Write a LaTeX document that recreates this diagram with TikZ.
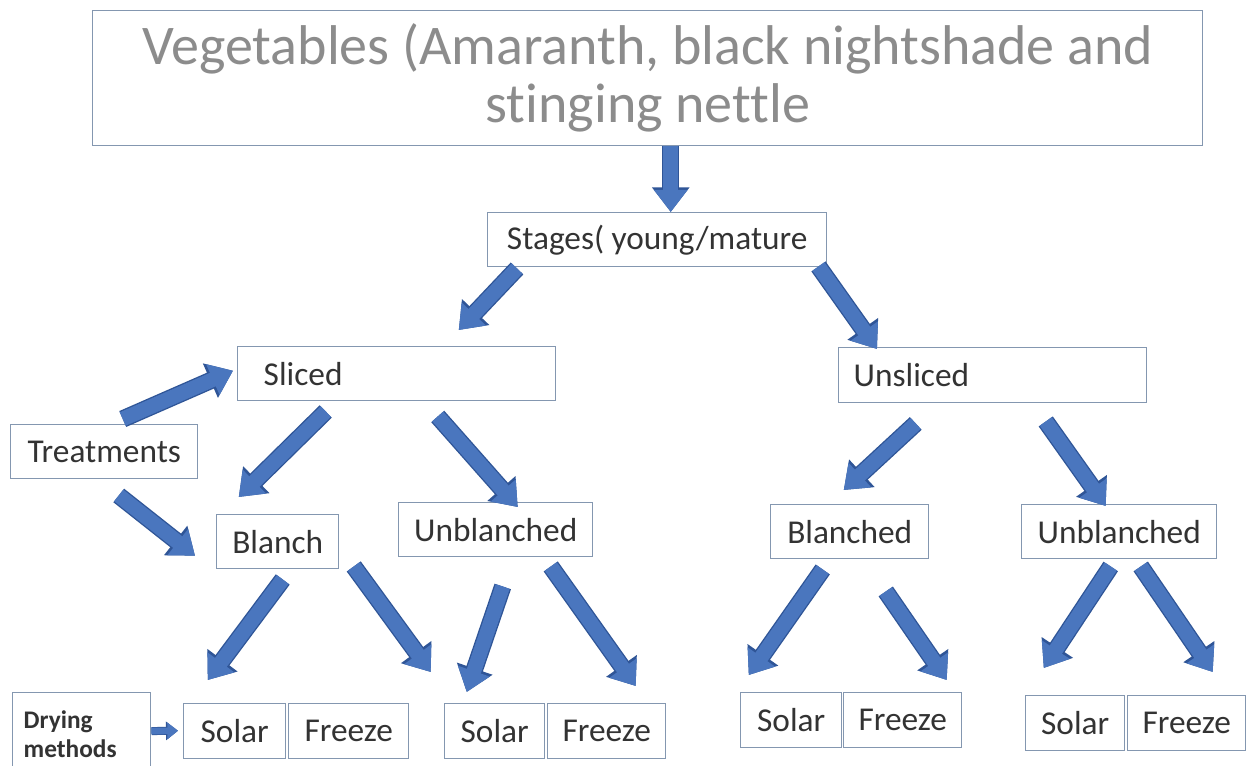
\documentclass[tikz,border=0pt]{standalone}
\usepackage{fontspec}
\setmainfont{Carlito}[Ligatures={NoCommon,NoRare}]
\usetikzlibrary{arrows.meta}
\definecolor{arrfill}{HTML}{4A76BE}
\definecolor{arrline}{HTML}{2F5597}
\definecolor{boxline}{HTML}{8497B0}
\definecolor{txt}{HTML}{333333}
\definecolor{toptxt}{HTML}{8C8C8C}
\begin{document}
\begin{tikzpicture}[x=0.75pt,y=-0.75pt,
  box/.style={draw=boxline, line width=1.1pt, fill=white, inner sep=0pt, anchor=north west,
    text=txt, font=\fontsize{25}{30}\selectfont},
  blk/.style={draw=arrfill, line width=11pt, -{Triangle[length=16.5pt,width=24pt]},
    preaction={draw=arrline, line width=13pt, -{Triangle[length=18.5pt,width=27pt]}}},
  sblk/.style={draw=arrfill, line width=5pt, -{Triangle[length=8pt,width=12pt]},
    preaction={draw=arrline, line width=6pt, -{Triangle[length=9pt,width=13.5pt]}}}
]
\useasboundingbox (0,0) rectangle (1251,766);
\fill[white] (0,0) rectangle (1251,766);

% nodes
\node[box, minimum width=832.5pt, minimum height=101.25pt, text=toptxt,
  font=\fontsize{42}{43.5}\selectfont, align=center] (top) at (92,10)
  {Vegetables (Amaranth, black nightshade and\\stinging nettle};
\node[box, minimum width=254.25pt, minimum height=40.5pt] (stages) at (487,212) {Stages( young/mature};
\node[box, text width=199.5pt, inner xsep=19.5pt, minimum height=40.5pt, align=left] (sliced) at (237,346) {Sliced};
\node[box, text width=208.5pt, inner xsep=11.25pt, minimum height=41.25pt, align=left] (unsliced) at (838,347) {Unsliced};
\node[box, minimum width=140.25pt, minimum height=40.5pt] (treat) at (10,424) {Treatments};
\node[box, minimum width=91.5pt, minimum height=40.5pt] (blanch) at (216,514) {Blanch};
\node[box, minimum width=145.5pt, minimum height=40.5pt] (unblL) at (398,502) {Unblanched};
\node[box, minimum width=118.5pt, minimum height=40.5pt] (blanched) at (770,504) {Blanched};
\node[box, minimum width=146.25pt, minimum height=40.5pt] (unblR) at (1021,504) {Unblanched};
\node[box, text width=87pt, inner xsep=8.25pt, minimum height=62pt, align=left,
  font=\fontsize{19}{21.5}\selectfont\bfseries] (drying) at (12,692) {Drying\\methods};
\node[box, minimum width=76.5pt, minimum height=41.25pt] (solar1) at (183,703) {Solar};
\node[box, minimum width=90pt, minimum height=41.25pt] (freeze1) at (288,703) {Freeze};
\node[box, minimum width=75pt, minimum height=41.25pt] (solar2) at (444,703) {Solar};
\node[box, minimum width=88.5pt, minimum height=41.25pt] (freeze2) at (547,703) {Freeze};
\node[box, minimum width=75.75pt, minimum height=41.25pt] (solar3) at (740,692) {Solar};
\node[box, minimum width=88.5pt, minimum height=41.25pt] (freeze3) at (843,692) {Freeze};
\node[box, minimum width=74.25pt, minimum height=41.25pt] (solar4) at (1025,695) {Solar};
\node[box, minimum width=88.5pt, minimum height=41.25pt] (freeze4) at (1127,695) {Freeze};

% arrows
\draw[blk] ([shift={(23,0)}]top.south) -- ([shift={(13.5,0)}]stages.north);
\draw[blk] ([shift={(30,1)}]stages.south west) -- ([shift={(62,-16)}]sliced.north);
\draw[blk] ([shift={(-9,-1)}]stages.south east) -- ([shift={(39,2)}]unsliced.north west);
\draw[blk] ([shift={(18.5,-5)}]treat.north) -- ([shift={(-4,-3)}]sliced.west);
\draw[blk] ([shift={(14.5,16)}]treat.south) -- ([shift={(-21,14)}]blanch.west);
\draw[blk] ([shift={(-71,10)}]sliced.south) -- ([shift={(-39,-17)}]blanch.north);
\draw[blk] ([shift={(41,15)}]sliced.south) -- ([shift={(22,5)}]unblL.north);
\draw[blk] ([shift={(-77,20)}]unsliced.south) -- ([shift={(-6,-14)}]blanched.north);
\draw[blk] ([shift={(53,18)}]unsliced.south) -- ([shift={(-13.5,2)}]unblR.north);
\draw[blk] ([shift={(5,10)}]blanch.south) -- ([shift={(-27,-23)}]solar1.north);
\draw[blk] ([shift={(76,-3)}]blanch.south) -- ([shift={(82,-31)}]freeze1.north);
\draw[blk] ([shift={(7,29)}]unblL.south) -- ([shift={(-28,-11)}]solar2.north);
\draw[blk] ([shift={(55,9)}]unblL.south) -- ([shift={(29,-17)}]freeze2.north);
\draw[blk] ([shift={(-27,10)}]blanched.south) -- ([shift={(-42.5,-17)}]solar3.north);
\draw[blk] ([shift={(36,32)}]blanched.south) -- ([shift={(44,-12)}]freeze3.north);
\draw[blk] ([shift={(-8.5,7)}]unblR.south) -- ([shift={(-31.5,-27)}]solar4.north);
\draw[blk] ([shift={(21.5,7)}]unblR.south) -- ([shift={(26,-23)}]freeze4.north);
\draw[sblk] ([shift={(0,-3)}]drying.east) -- ([shift={(-5,-0.5)}]solar1.west);
\end{tikzpicture}
\end{document}
